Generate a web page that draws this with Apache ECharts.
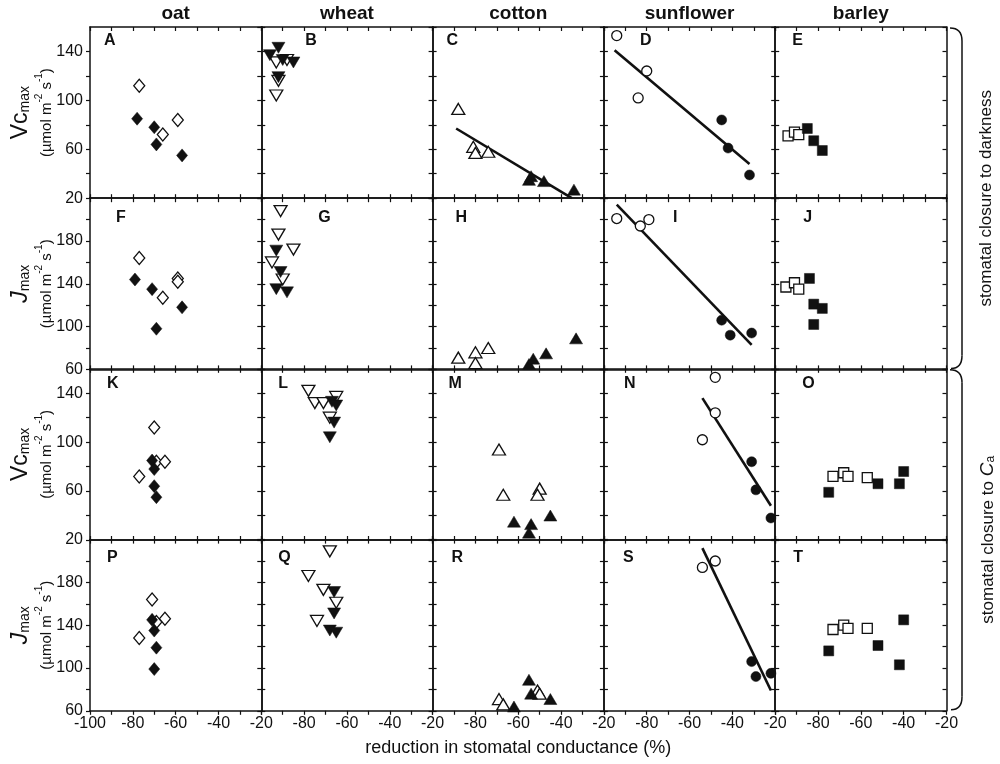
<!DOCTYPE html>
<html>
<head>
<meta charset="utf-8">
<script src="https://cdn.jsdelivr.net/npm/echarts@6.0.0/dist/echarts.min.js"></script>
<style>
  html, body { margin: 0; padding: 0; background: #fff; }
  #chart { width: 1000px; height: 764px; }
</style>
</head>
<body>
<div id="chart"></div>
<script>
// 作物与面板标识
const crops = ['oat', 'wheat', 'cotton', 'sunflower', 'barley'];
const panelLetters = [
  ['A', 'B', 'C', 'D', 'E'],
  ['F', 'G', 'H', 'I', 'J'],
  ['K', 'L', 'M', 'N', 'O'],
  ['P', 'Q', 'R', 'S', 'T']
];
const xRange = [-100, -20];
const vcRange = [20, 160];
const jRange = [60, 220];

// 第一行: Vcmax, stomatal closure to darkness (每个作物一组 [x, y])
const vcDarkOpen = [
  [[-77, 112], [-66, 72], [-59, 84]],
  [[-93, 131], [-88, 133], [-92, 116], [-93, 104]],
  [[-88, 93], [-81, 62], [-80, 57], [-74, 58]],
  [[-94, 153], [-80, 124], [-84, 102]],
  [[-94, 71], [-91, 74], [-89, 72]]
];
const vcDarkFilled = [
  [[-78, 85], [-70, 78], [-69, 64], [-57, 55]],
  [[-92, 143], [-96, 137], [-90, 133], [-85, 131], [-92, 119]],
  [[-54, 38], [-55, 35], [-48, 34], [-34, 27]],
  [[-45, 84], [-42, 61], [-32, 39]],
  [[-85, 77], [-82, 67], [-78, 59]]
];
const vcDarkFits = [null, null, [[-89, 77], [-35, 20]], [[-95, 141], [-32, 48]], null];

// 第二行: Jmax, darkness
const jDarkOpen = [
  [[-77, 164], [-66, 127], [-59, 145], [-59, 142]],
  [[-91, 208], [-92, 186], [-85, 172], [-95, 160], [-90, 144]],
  [[-88, 71], [-80, 76], [-80, 66], [-74, 80]],
  [[-94, 201], [-83, 194], [-79, 200]],
  [[-95, 137], [-91, 141], [-89, 135]]
];
const jDarkFilled = [
  [[-79, 144], [-71, 135], [-69, 98], [-57, 118]],
  [[-93, 171], [-91, 151], [-93, 135], [-88, 132]],
  [[-55, 65], [-53, 70], [-47, 75], [-33, 89]],
  [[-45, 106], [-41, 92], [-31, 94]],
  [[-84, 145], [-82, 121], [-78, 117], [-82, 102]]
];
const jDarkFits = [null, null, null, [[-94, 214], [-31, 83]], null];

// 第三行: Vcmax, stomatal closure to Ca
const vcCaOpen = [
  [[-70, 112], [-69, 84], [-65, 84], [-77, 72]],
  [[-78, 142], [-75, 132], [-71, 132], [-65, 137], [-68, 120]],
  [[-69, 94], [-67, 57], [-50, 62], [-51, 57]],
  [[-48, 153], [-48, 124], [-54, 102]],
  [[-73, 72], [-68, 75], [-66, 72], [-57, 71]]
];
const vcCaFilled = [
  [[-71, 85], [-70, 78], [-70, 64], [-69, 55]],
  [[-67, 133], [-65, 130], [-66, 116], [-68, 104]],
  [[-62, 35], [-45, 40], [-54, 33], [-55, 26]],
  [[-31, 84], [-29, 61], [-22, 38]],
  [[-75, 59], [-52, 66], [-42, 66], [-40, 76]]
];
const vcCaFits = [null, null, null, [[-54, 136], [-22, 48]], null];

// 第四行: Jmax, Ca
const jCaOpen = [
  [[-71, 164], [-69, 143], [-65, 146], [-77, 128]],
  [[-68, 209], [-78, 186], [-71, 173], [-65, 161], [-74, 144]],
  [[-69, 71], [-67, 66], [-51, 79], [-50, 76]],
  [[-54, 194], [-48, 200]],
  [[-73, 136], [-68, 140], [-66, 137], [-57, 137]]
];
const jCaFilled = [
  [[-71, 145], [-70, 135], [-69, 119], [-70, 99]],
  [[-66, 171], [-66, 151], [-68, 135], [-65, 133]],
  [[-62, 64], [-55, 89], [-54, 76], [-45, 71]],
  [[-31, 106], [-29, 92], [-22, 95]],
  [[-75, 116], [-52, 121], [-42, 103], [-40, 145]]
];
const jCaFits = [null, null, null, [[-54, 212], [-22, 79]], null];

const rows = [
  { open: vcDarkOpen, filled: vcDarkFilled, fits: vcDarkFits, range: vcRange, name: 'vc' },
  { open: jDarkOpen, filled: jDarkFilled, fits: jDarkFits, range: jRange, name: 'j' },
  { open: vcCaOpen, filled: vcCaFilled, fits: vcCaFits, range: vcRange, name: 'vc' },
  { open: jCaOpen, filled: jCaFilled, fits: jCaFits, range: jRange, name: 'j' }
];

// 布局与样式
const FONT = '"Liberation Sans", Arial, Helvetica, sans-serif';
const INK = '#111';
const colLeft = [90, 261.3, 432.6, 603.9, 775.2];
const colW = 171.3;
const rowTop = [27, 198.2, 368.8, 539.6];
const rowH = 171.2;
const letterDx = [
  [14, 44, 14, 36, 17],
  [26, 57, 23, 69, 28],
  [17, 17, 16, 20, 27],
  [17, 17, 19, 19, 18]
];
const letterDy = [6, 11, 7, 10];
const markers = [
  { symbol: 'diamond', size: [11, 13], rotate: 0 },
  { symbol: 'triangle', size: [13, 11], rotate: 180 },
  { symbol: 'triangle', size: [13, 11], rotate: 0 },
  { symbol: 'circle', size: 10, rotate: 0 },
  { symbol: 'rect', size: 10, rotate: 0 }
];

const grids = [];
const xAxes = [];
const yAxes = [];
const series = [];
const graphics = [];

const axisLine = { show: true, lineStyle: { color: INK, width: 1.5 } };
const tick = (inside) => ({ show: true, inside, length: 4, lineStyle: { color: INK, width: 1.2 } });

rows.forEach((row, r) => {
  crops.forEach((crop, c) => {
    const g = grids.length;
    grids.push({ left: colLeft[c], top: rowTop[r], width: colW, height: rowH });

    const xi = xAxes.length;
    xAxes.push({
      gridIndex: g, type: 'value', position: 'bottom',
      min: xRange[0], max: xRange[1], interval: 10,
      axisLine, axisTick: tick(r !== 3), splitLine: { show: false },
      axisLabel: {
        show: r === 3, margin: 5, fontSize: 16, color: INK, fontFamily: FONT,
        showMinLabel: true, showMaxLabel: true,
        formatter: (v) => (v % 20 !== 0 || (c > 0 && v === xRange[0])) ? '' : String(v)
      }
    });
    xAxes.push({
      gridIndex: g, type: 'value', position: 'top',
      min: xRange[0], max: xRange[1], interval: 10,
      axisLine, axisTick: tick(true), splitLine: { show: false }, axisLabel: { show: false }
    });

    const yi = yAxes.length;
    const [ymin, ymax] = row.range;
    yAxes.push({
      gridIndex: g, type: 'value', position: 'left',
      min: ymin, max: ymax, interval: 20,
      axisLine, axisTick: tick(c !== 0), splitLine: { show: false },
      axisLabel: {
        show: c === 0, margin: 7, fontSize: 16, color: INK, fontFamily: FONT,
        showMinLabel: true, showMaxLabel: false,
        formatter: (v) => ((v - ymin) % 40 !== 0 || v === ymax) ? '' : String(v)
      }
    });
    yAxes.push({
      gridIndex: g, type: 'value', position: 'right',
      min: ymin, max: ymax, interval: 20,
      axisLine, axisTick: tick(true), splitLine: { show: false }, axisLabel: { show: false }
    });

    const m = markers[c];
    if (row.fits[c]) {
      series.push({
        type: 'line', xAxisIndex: xi, yAxisIndex: yi, data: row.fits[c],
        symbol: 'none', lineStyle: { color: INK, width: 2.6 }, z: 2, silent: true
      });
    }
    series.push({
      type: 'scatter', xAxisIndex: xi, yAxisIndex: yi, data: row.open[c],
      symbol: m.symbol, symbolSize: m.size, symbolRotate: m.rotate,
      itemStyle: { color: '#fff', borderColor: INK, borderWidth: 1.3, opacity: 1 }, z: 3, silent: true
    });
    series.push({
      type: 'scatter', xAxisIndex: xi, yAxisIndex: yi, data: row.filled[c],
      symbol: m.symbol, symbolSize: m.size, symbolRotate: m.rotate,
      itemStyle: { color: INK, borderColor: INK, borderWidth: 0.5, opacity: 1 }, z: 4, silent: true
    });

    // 面板字母
    graphics.push({
      type: 'text', x: colLeft[c] + letterDx[r][c], y: rowTop[r] + letterDy[r],
      style: { text: panelLetters[r][c], font: 'bold 16px ' + FONT, fill: INK,
        align: 'left', verticalAlign: 'top', textAlign: 'left', textVerticalAlign: 'top' }
    });
  });
});

// 列标题
crops.forEach((crop, c) => {
  graphics.push({
    type: 'text', x: colLeft[c] + colW / 2, y: 14,
    style: { text: crop, font: 'bold 19px ' + FONT, fill: INK,
      align: 'center', verticalAlign: 'middle', textAlign: 'center', textVerticalAlign: 'middle' }
  });
});

// 纵轴标题
rows.forEach((row, r) => {
  const cy = rowTop[r] + rowH / 2;
  const main = row.name === 'vc' ? '{big|Vc}{sub|max}' : '{it|J}{sub|max}';
  graphics.push({
    type: 'text', x: 19, y: cy, rotation: Math.PI / 2,
    style: {
      text: main, fill: INK, align: 'center', verticalAlign: 'middle',
      textAlign: 'center', textVerticalAlign: 'middle',
      rich: {
        big: { fontSize: 23, fontFamily: FONT, fill: INK, verticalAlign: 'bottom', lineHeight: 26 },
        it: { fontSize: 23, fontFamily: FONT, fontStyle: 'italic', fill: INK, verticalAlign: 'bottom', lineHeight: 26 },
        sub: { fontSize: 14, fontFamily: FONT, fill: INK, verticalAlign: 'bottom', lineHeight: 20 }
      }
    }
  });
  graphics.push({
    type: 'text', x: 44, y: cy, rotation: Math.PI / 2,
    style: {
      text: '{n|(µmol m}{sup|-2}{n| s}{sup|-1}{n|)}', fill: INK,
      align: 'center', verticalAlign: 'middle', textAlign: 'center', textVerticalAlign: 'middle',
      rich: {
        n: { fontSize: 15, fontFamily: FONT, fill: INK, verticalAlign: 'bottom', lineHeight: 20 },
        sup: { fontSize: 10, fontFamily: FONT, fill: INK, verticalAlign: 'top', lineHeight: 12 }
      }
    }
  });
});

// 右侧分组标签
const groupMid = [(rowTop[0] + rowTop[1] + rowH) / 2, (rowTop[2] + rowTop[3] + rowH) / 2];
graphics.push({
  type: 'text', x: 986, y: groupMid[0], rotation: Math.PI / 2,
  style: { text: 'stomatal closure to darkness', font: '17px ' + FONT, fill: INK,
    align: 'center', verticalAlign: 'middle', textAlign: 'center', textVerticalAlign: 'middle' }
});
graphics.push({
  type: 'text', x: 986, y: groupMid[1], rotation: Math.PI / 2,
  style: {
    text: '{n|stomatal closure to }{it|C}{sub|a}', fill: INK,
    align: 'center', verticalAlign: 'middle', textAlign: 'center', textVerticalAlign: 'middle',
    rich: {
      n: { fontSize: 17, fontFamily: FONT, fill: INK, verticalAlign: 'bottom', lineHeight: 22 },
      it: { fontSize: 19, fontFamily: FONT, fontStyle: 'italic', fill: INK, verticalAlign: 'bottom', lineHeight: 22 },
      sub: { fontSize: 12, fontFamily: FONT, fill: INK, verticalAlign: 'bottom', lineHeight: 16 }
    }
  }
});

// 右侧括号
const braceStyle = { stroke: INK, lineWidth: 1.5, fill: null };
[[rowTop[0] + 1, rowTop[1] + rowH - 1], [rowTop[2] + 1, rowTop[3] + rowH - 1]].forEach(([y0, y1]) => {
  graphics.push({ type: 'bezierCurve', shape: { x1: 950, y1: y0, cpx1: 962, cpy1: y0, x2: 962, y2: y0 + 13 }, style: braceStyle });
  graphics.push({ type: 'line', shape: { x1: 962, y1: y0 + 13, x2: 962, y2: y1 - 13 }, style: braceStyle });
  graphics.push({ type: 'bezierCurve', shape: { x1: 962, y1: y1 - 13, cpx1: 962, cpy1: y1, x2: 951, y2: y1 }, style: braceStyle });
});

// 横轴标题
graphics.push({
  type: 'text', x: (colLeft[0] + colLeft[4] + colW) / 2, y: 748,
  style: { text: 'reduction in stomatal conductance (%)', font: '18px ' + FONT, fill: INK,
    align: 'center', verticalAlign: 'middle', textAlign: 'center', textVerticalAlign: 'middle' }
});

const chart = echarts.init(document.getElementById('chart'), null, { renderer: 'canvas' });
chart.setOption({
  animation: false,
  backgroundColor: '#fff',
  grid: grids,
  xAxis: xAxes,
  yAxis: yAxes,
  series,
  graphic: { elements: graphics }
});
</script>
</body>
</html>
